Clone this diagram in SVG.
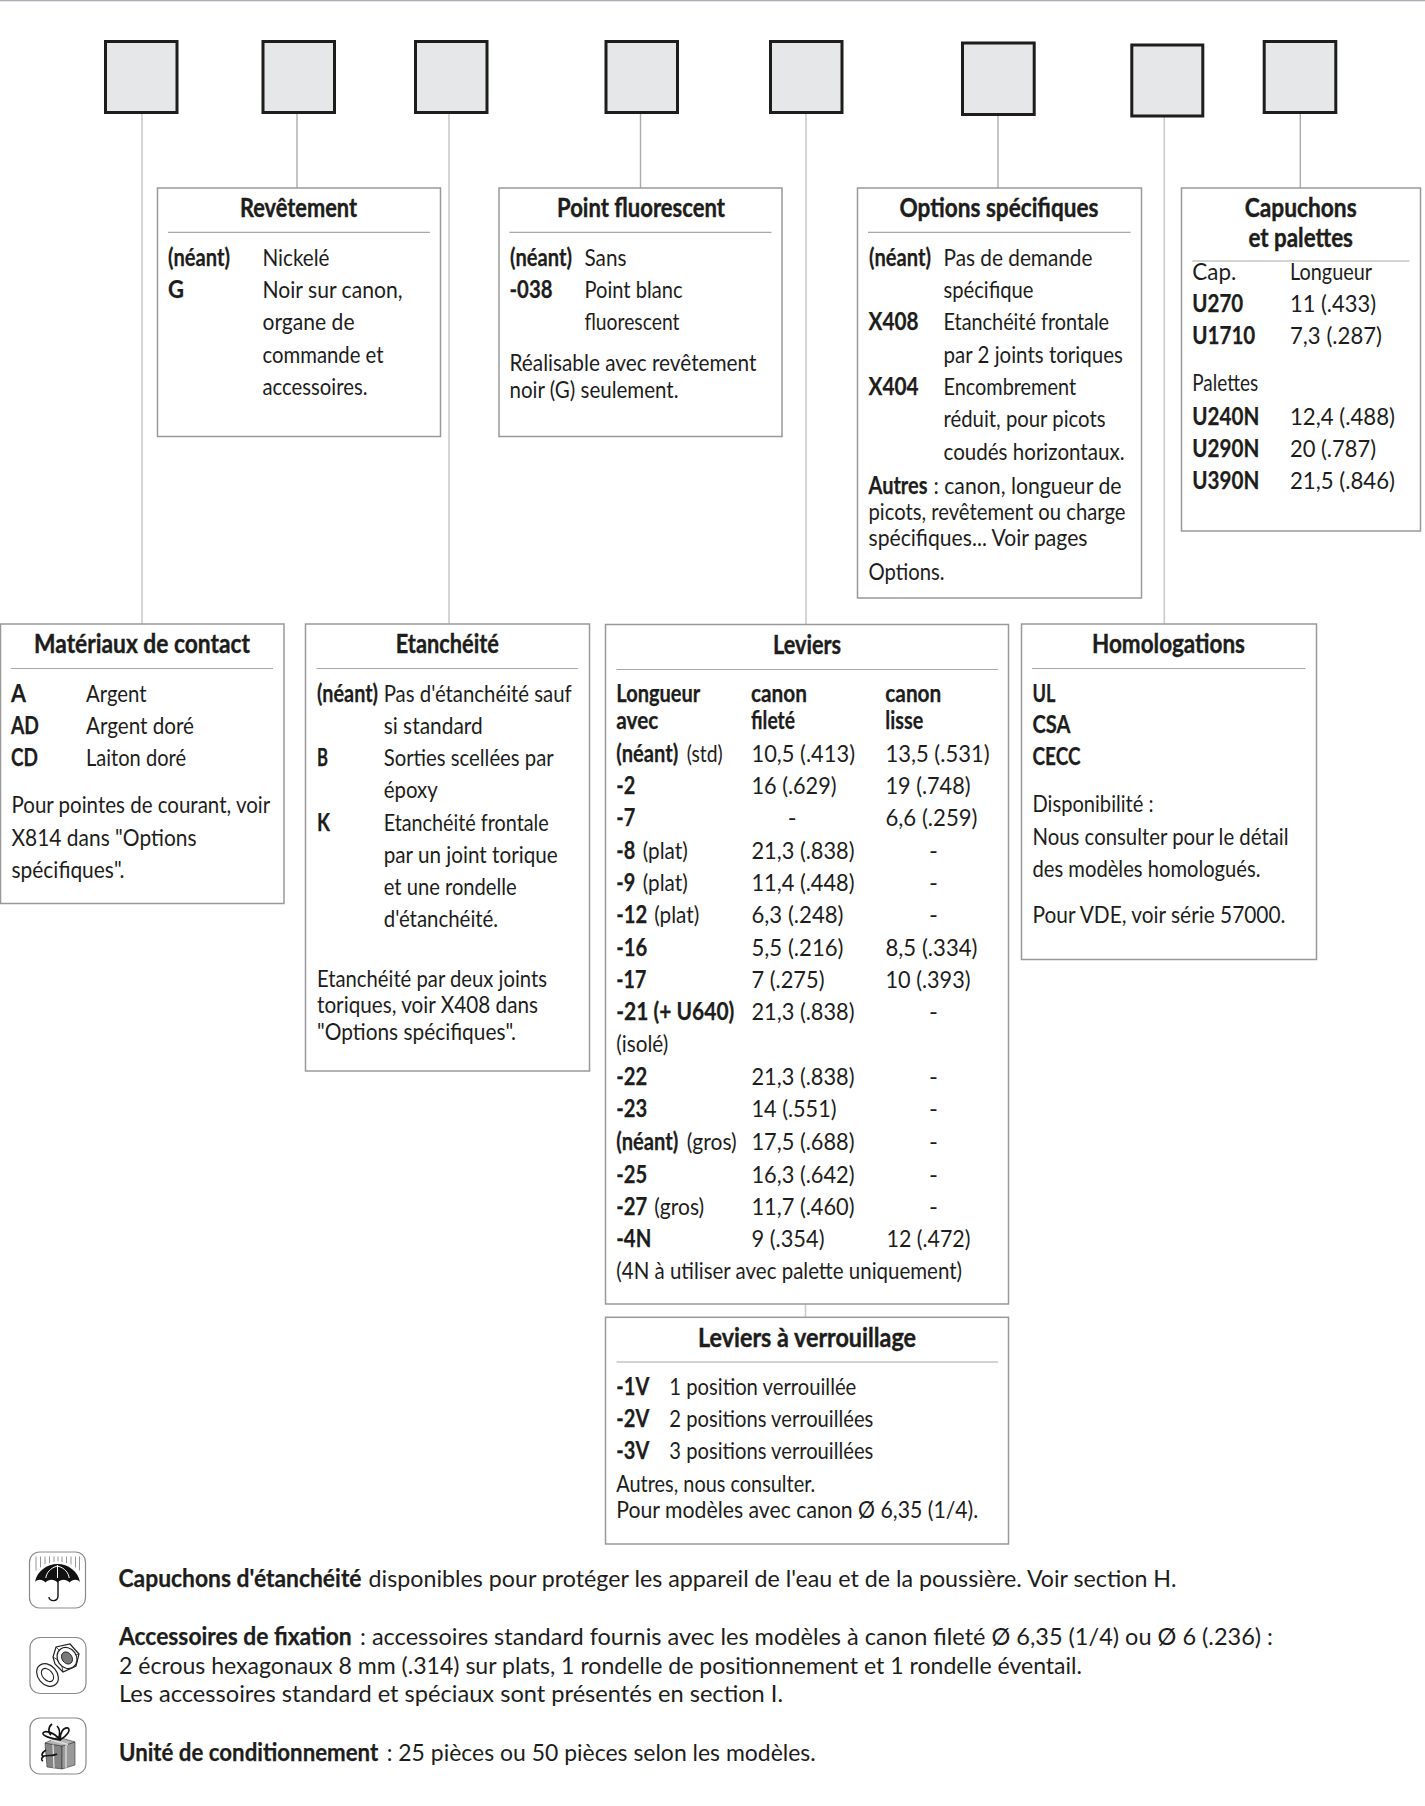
<svg xmlns="http://www.w3.org/2000/svg" width="1425" height="1806" viewBox="0 0 1425 1806">
<style>
text{font-family:"Lato","Liberation Sans",sans-serif;fill:#1d1d1b}
.t{font-size:24px}
.b{font-size:24px;font-weight:700;stroke:#1d1d1b;stroke-width:.25px}
.h{font-size:26.5px;font-weight:700;text-anchor:middle;stroke:#1d1d1b;stroke-width:.4px}
.sq{fill:#e6e7e8;stroke:#1d1d1b;stroke-width:3}
.box{fill:#fff;stroke:#999;stroke-width:1.5}
.rule{stroke:#a8a8a8;stroke-width:1.2;fill:none}
.c1{stroke:#cbcbcb;stroke-width:1.6;fill:none}
.c2{stroke:#ababab;stroke-width:1.4;fill:none}
.ic{fill:#fff;stroke:#8a8a8a;stroke-width:1.2}
</style>
<rect width="1425" height="1806" fill="#fff"/>
<rect width="1425" height="1.3" fill="#aeaeb6"/>
<g id="connectors">
<line class="c1" x1="142" y1="114" x2="142" y2="624"/>
<line class="c2" x1="297" y1="114" x2="297" y2="188"/>
<line class="c1" x1="449" y1="114" x2="449" y2="624"/>
<line class="c2" x1="640.5" y1="114" x2="640.5" y2="188"/>
<line class="c1" x1="806" y1="114" x2="806" y2="624"/>
<line class="c2" x1="998" y1="116" x2="998" y2="188"/>
<line class="c1" x1="1164.3" y1="117" x2="1164.3" y2="624"/>
<line class="c2" x1="1300.3" y1="114" x2="1300.3" y2="188"/>
<line class="c1" x1="805.5" y1="1304" x2="805.5" y2="1317"/>
</g>
<g id="slot1"><rect class="sq" x="105.5" y="41.5" width="71.500" height="71"/></g>
<g id="slot2"><rect class="sq" x="263" y="41.5" width="71.500" height="71"/></g>
<g id="slot3"><rect class="sq" x="415.5" y="41.5" width="71.500" height="71"/></g>
<g id="slot4"><rect class="sq" x="606" y="41.5" width="71.500" height="71"/></g>
<g id="slot5"><rect class="sq" x="770.5" y="41.5" width="71.500" height="71"/></g>
<g id="slot6"><rect class="sq" x="962.5" y="43" width="71.700" height="71.5"/></g>
<g id="slot7"><rect class="sq" x="1131.800" y="45" width="71" height="71"/></g>
<g id="slot8"><rect class="sq" x="1264.200" y="41.5" width="71.600" height="71"/></g>

<g id="revetement">
<rect class="box" x="157.5" y="188" width="283" height="248.5"/>
<line class="rule" x1="168" y1="232.3" x2="430" y2="232.3"/>
<text class="h" x="298.5" y="217" textLength="117" lengthAdjust="spacingAndGlyphs">Revêtement</text>
<text class="b" x="168" y="265.7" textLength="62" lengthAdjust="spacingAndGlyphs">(néant)</text>
<text class="b" x="168" y="298" textLength="16" lengthAdjust="spacingAndGlyphs">G</text>
<text class="t" x="262.5" y="265.7" textLength="67" lengthAdjust="spacingAndGlyphs">Nickelé</text>
<text class="t" x="262.5" y="298" textLength="140" lengthAdjust="spacingAndGlyphs">Noir sur canon,</text>
<text class="t" x="262.5" y="330.3" textLength="92" lengthAdjust="spacingAndGlyphs">organe de</text>
<text class="t" x="262.5" y="362.6" textLength="121" lengthAdjust="spacingAndGlyphs">commande et</text>
<text class="t" x="262.5" y="394.9" textLength="105" lengthAdjust="spacingAndGlyphs">accessoires.</text>
</g>

<g id="point-fluorescent">
<rect class="box" x="499" y="188" width="283" height="248.5"/>
<line class="rule" x1="509.5" y1="232.3" x2="771.5" y2="232.3"/>
<text class="h" x="641" y="217" textLength="168" lengthAdjust="spacingAndGlyphs">Point fluorescent</text>
<text class="b" x="510" y="265.7" textLength="62" lengthAdjust="spacingAndGlyphs">(néant)</text>
<text class="b" x="509.5" y="298" textLength="43" lengthAdjust="spacingAndGlyphs">-038</text>
<text class="t" x="584.5" y="265.7" textLength="42" lengthAdjust="spacingAndGlyphs">Sans</text>
<text class="t" x="584.5" y="298" textLength="98" lengthAdjust="spacingAndGlyphs">Point blanc</text>
<text class="t" x="584.5" y="330.3" textLength="95" lengthAdjust="spacingAndGlyphs">fluorescent</text>
<text class="t" x="509.5" y="371.2" textLength="247" lengthAdjust="spacingAndGlyphs">Réalisable avec  revêtement</text>
<text class="t" x="509.5" y="398" textLength="169" lengthAdjust="spacingAndGlyphs">noir (G) seulement.</text>
</g>

<g id="options-specifiques">
<rect class="box" x="857.5" y="188" width="284" height="410"/>
<line class="rule" x1="868" y1="232.3" x2="1130.5" y2="232.3"/>
<text class="h" x="999" y="217" textLength="199" lengthAdjust="spacingAndGlyphs">Options spécifiques</text>
<text class="b" x="869" y="265.7" textLength="62" lengthAdjust="spacingAndGlyphs">(néant)</text>
<text class="b" x="868.5" y="330.3" textLength="50" lengthAdjust="spacingAndGlyphs">X408</text>
<text class="b" x="868.5" y="394.9" textLength="50" lengthAdjust="spacingAndGlyphs">X404</text>
<text class="t" x="943.5" y="265.7" textLength="149" lengthAdjust="spacingAndGlyphs">Pas de demande</text>
<text class="t" x="943.5" y="298" textLength="90" lengthAdjust="spacingAndGlyphs">spécifique</text>
<text class="t" x="943.5" y="330.3" textLength="165.6" lengthAdjust="spacingAndGlyphs">Etanchéité frontale</text>
<text class="t" x="943.5" y="362.6" textLength="179.4" lengthAdjust="spacingAndGlyphs">par 2 joints toriques</text>
<text class="t" x="943.5" y="394.9" textLength="132.5" lengthAdjust="spacingAndGlyphs">Encombrement</text>
<text class="t" x="943.5" y="427.2" textLength="162" lengthAdjust="spacingAndGlyphs">réduit, pour picots</text>
<text class="t" x="943.5" y="459.5" textLength="181" lengthAdjust="spacingAndGlyphs">coudés horizontaux.</text>
<text class="b" x="868.5" y="494" textLength="59" lengthAdjust="spacingAndGlyphs">Autres</text>
<text class="t" x="933.5" y="494" textLength="188" lengthAdjust="spacingAndGlyphs">: canon, longueur de</text>
<text class="t" x="868.5" y="520" textLength="257" lengthAdjust="spacingAndGlyphs">picots, revêtement ou charge</text>
<text class="t" x="868.5" y="546" textLength="219" lengthAdjust="spacingAndGlyphs">spécifiques... Voir pages</text>
<text class="t" x="868.5" y="580" textLength="76" lengthAdjust="spacingAndGlyphs">Options.</text>
</g>

<g id="capuchons-palettes">
<rect class="box" x="1181.5" y="188" width="239" height="343"/>
<line class="rule" x1="1192.3" y1="261" x2="1409.5" y2="261"/>
<text class="h" x="1300.7" y="217.4" textLength="112" lengthAdjust="spacingAndGlyphs">Capuchons</text>
<text class="h" x="1300.7" y="246.500" textLength="104.5" lengthAdjust="spacingAndGlyphs">et palettes</text>
<text class="t" x="1192.3" y="280" textLength="44" lengthAdjust="spacingAndGlyphs">Cap.</text>
<text class="t" x="1290" y="280" textLength="82" lengthAdjust="spacingAndGlyphs">Longueur</text>
<text class="b" x="1192.3" y="312" textLength="51" lengthAdjust="spacingAndGlyphs">U270</text>
<text class="t" x="1290" y="312" textLength="86" lengthAdjust="spacingAndGlyphs">11 (.433)</text>
<text class="b" x="1192.3" y="344" textLength="63" lengthAdjust="spacingAndGlyphs">U1710</text>
<text class="t" x="1290" y="344" textLength="92" lengthAdjust="spacingAndGlyphs">7,3 (.287)</text>
<text class="t" x="1192.3" y="391" textLength="66" lengthAdjust="spacingAndGlyphs">Palettes</text>
<text class="b" x="1192.3" y="424.500" textLength="67" lengthAdjust="spacingAndGlyphs">U240N</text>
<text class="t" x="1290" y="424.500" textLength="105" lengthAdjust="spacingAndGlyphs">12,4 (.488)</text>
<text class="b" x="1192.3" y="456.700" textLength="67" lengthAdjust="spacingAndGlyphs">U290N</text>
<text class="t" x="1290" y="456.700" textLength="86" lengthAdjust="spacingAndGlyphs">20 (.787)</text>
<text class="b" x="1192.3" y="489" textLength="67" lengthAdjust="spacingAndGlyphs">U390N</text>
<text class="t" x="1290" y="489" textLength="105" lengthAdjust="spacingAndGlyphs">21,5 (.846)</text>
</g>

<g id="materiaux">
<rect class="box" x="0.5" y="624" width="283.5" height="279.5"/>
<line class="rule" x1="11" y1="668.5" x2="273" y2="668.5"/>
<text class="h" x="142" y="653.3" textLength="216" lengthAdjust="spacingAndGlyphs">Matériaux de contact</text>
<text class="b" x="11" y="701.7" textLength="15" lengthAdjust="spacingAndGlyphs">A</text>
<text class="b" x="11" y="734" textLength="28" lengthAdjust="spacingAndGlyphs">AD</text>
<text class="b" x="11" y="766.3" textLength="27" lengthAdjust="spacingAndGlyphs">CD</text>
<text class="t" x="86" y="701.7" textLength="60.5" lengthAdjust="spacingAndGlyphs">Argent</text>
<text class="t" x="86" y="734" textLength="108" lengthAdjust="spacingAndGlyphs">Argent doré</text>
<text class="t" x="86" y="766.3" textLength="100" lengthAdjust="spacingAndGlyphs">Laiton doré</text>
<text class="t" x="11.5" y="813.3" textLength="258.7" lengthAdjust="spacingAndGlyphs">Pour pointes de courant, voir</text>
<text class="t" x="11.5" y="845.7" textLength="185" lengthAdjust="spacingAndGlyphs">X814 dans "Options</text>
<text class="t" x="11.5" y="878" textLength="113" lengthAdjust="spacingAndGlyphs">spécifiques".</text>
</g>

<g id="etancheite">
<rect class="box" x="305.5" y="624" width="284" height="447"/>
<line class="rule" x1="316.5" y1="668.5" x2="578" y2="668.5"/>
<text class="h" x="447.3" y="653.3" textLength="103" lengthAdjust="spacingAndGlyphs">Etanchéité</text>
<text class="b" x="317" y="701.7" textLength="61" lengthAdjust="spacingAndGlyphs">(néant)</text>
<text class="b" x="317" y="766.3" textLength="11" lengthAdjust="spacingAndGlyphs">B</text>
<text class="b" x="317" y="830.6" textLength="13" lengthAdjust="spacingAndGlyphs">K</text>
<text class="t" x="383.7" y="701.7" textLength="188" lengthAdjust="spacingAndGlyphs">Pas d'étanchéité sauf</text>
<text class="t" x="383.7" y="734" textLength="99" lengthAdjust="spacingAndGlyphs">si standard</text>
<text class="t" x="383.7" y="766.3" textLength="170" lengthAdjust="spacingAndGlyphs">Sorties scellées par</text>
<text class="t" x="383.7" y="798" textLength="54" lengthAdjust="spacingAndGlyphs">époxy</text>
<text class="t" x="383.7" y="830.6" textLength="165" lengthAdjust="spacingAndGlyphs">Etanchéité frontale</text>
<text class="t" x="383.7" y="862.8" textLength="174" lengthAdjust="spacingAndGlyphs">par un joint torique</text>
<text class="t" x="383.7" y="895" textLength="133" lengthAdjust="spacingAndGlyphs">et une rondelle</text>
<text class="t" x="383.7" y="927.2" textLength="114.5" lengthAdjust="spacingAndGlyphs">d'étanchéité.</text>
<text class="t" x="317" y="986.7" textLength="230" lengthAdjust="spacingAndGlyphs">Etanchéité par deux joints</text>
<text class="t" x="317" y="1013" textLength="221" lengthAdjust="spacingAndGlyphs">toriques, voir X408 dans</text>
<text class="t" x="317" y="1039.5" textLength="199" lengthAdjust="spacingAndGlyphs">"Options spécifiques".</text>
</g>

<g id="leviers">
<rect class="box" x="605.5" y="624.5" width="403" height="679.5"/>
<line class="rule" x1="616.5" y1="669.5" x2="998" y2="669.5"/>
<text class="h" x="807" y="654" textLength="68" lengthAdjust="spacingAndGlyphs">Leviers</text>
<text class="b" x="616.3" y="702.3" textLength="84" lengthAdjust="spacingAndGlyphs">Longueur</text>
<text class="b" x="616.3" y="729.3" textLength="42" lengthAdjust="spacingAndGlyphs">avec</text>
<text class="b" x="751" y="702.3" textLength="56" lengthAdjust="spacingAndGlyphs">canon</text>
<text class="b" x="751" y="729.3" textLength="44" lengthAdjust="spacingAndGlyphs">fileté</text>
<text class="b" x="885.3" y="702.3" textLength="56" lengthAdjust="spacingAndGlyphs">canon</text>
<text class="b" x="885.3" y="729.3" textLength="38" lengthAdjust="spacingAndGlyphs">lisse</text>

<text class="b" x="616.3" y="762" textLength="62" lengthAdjust="spacingAndGlyphs">(néant)</text>
<text class="t" x="686.7" y="762" textLength="36" lengthAdjust="spacingAndGlyphs">(std)</text>
<text class="t" x="751.500" y="762" textLength="103.5" lengthAdjust="spacingAndGlyphs">10,5 (.413)</text>
<text class="t" x="885.500" y="762" textLength="104" lengthAdjust="spacingAndGlyphs">13,5 (.531)</text>

<text class="b" x="616.3" y="794" textLength="19" lengthAdjust="spacingAndGlyphs">-2</text>
<text class="t" x="751.500" y="794" textLength="85" lengthAdjust="spacingAndGlyphs">16 (.629)</text>
<text class="t" x="885.500" y="794" textLength="85" lengthAdjust="spacingAndGlyphs">19 (.748)</text>

<text class="b" x="616.3" y="826.3" textLength="19" lengthAdjust="spacingAndGlyphs">-7</text>
<text class="t" x="787.700" y="826.3">-</text>
<text class="t" x="885.500" y="826.3" textLength="92" lengthAdjust="spacingAndGlyphs">6,6 (.259)</text>

<text class="b" x="616.3" y="858.7" textLength="19" lengthAdjust="spacingAndGlyphs">-8</text>
<text class="t" x="642.7" y="858.7" textLength="45" lengthAdjust="spacingAndGlyphs">(plat)</text>
<text class="t" x="751.500" y="858.7" textLength="103" lengthAdjust="spacingAndGlyphs">21,3 (.838)</text>
<text class="t" x="929" y="858.7">-</text>

<text class="b" x="616.3" y="891" textLength="19" lengthAdjust="spacingAndGlyphs">-9</text>
<text class="t" x="642.7" y="891" textLength="45" lengthAdjust="spacingAndGlyphs">(plat)</text>
<text class="t" x="751.500" y="891" textLength="103" lengthAdjust="spacingAndGlyphs">11,4 (.448)</text>
<text class="t" x="929" y="891">-</text>

<text class="b" x="616.3" y="923" textLength="31" lengthAdjust="spacingAndGlyphs">-12</text>
<text class="t" x="654.2" y="923" textLength="45" lengthAdjust="spacingAndGlyphs">(plat)</text>
<text class="t" x="751.500" y="923" textLength="92" lengthAdjust="spacingAndGlyphs">6,3 (.248)</text>
<text class="t" x="929" y="923">-</text>

<text class="b" x="616.3" y="955.5" textLength="31" lengthAdjust="spacingAndGlyphs">-16</text>
<text class="t" x="751.500" y="955.5" textLength="92" lengthAdjust="spacingAndGlyphs">5,5 (.216)</text>
<text class="t" x="885.500" y="955.5" textLength="92" lengthAdjust="spacingAndGlyphs">8,5 (.334)</text>

<text class="b" x="616.3" y="987.700" textLength="30" lengthAdjust="spacingAndGlyphs">-17</text>
<text class="t" x="751.500" y="987.700" textLength="73" lengthAdjust="spacingAndGlyphs">7 (.275)</text>
<text class="t" x="885.500" y="987.700" textLength="85" lengthAdjust="spacingAndGlyphs">10 (.393)</text>

<text class="b" x="616.3" y="1020" textLength="118" lengthAdjust="spacingAndGlyphs">-21 (+ U640)</text>
<text class="t" x="751.500" y="1020" textLength="103" lengthAdjust="spacingAndGlyphs">21,3 (.838)</text>
<text class="t" x="929" y="1020">-</text>

<text class="t" x="616.3" y="1052" textLength="52" lengthAdjust="spacingAndGlyphs">(isolé)</text>

<text class="b" x="616.3" y="1084.500" textLength="31" lengthAdjust="spacingAndGlyphs">-22</text>
<text class="t" x="751.500" y="1084.500" textLength="103" lengthAdjust="spacingAndGlyphs">21,3 (.838)</text>
<text class="t" x="929" y="1084.500">-</text>

<text class="b" x="616.3" y="1117" textLength="31" lengthAdjust="spacingAndGlyphs">-23</text>
<text class="t" x="751.500" y="1117" textLength="85" lengthAdjust="spacingAndGlyphs">14 (.551)</text>
<text class="t" x="929" y="1117">-</text>

<text class="b" x="616.3" y="1150" textLength="62" lengthAdjust="spacingAndGlyphs">(néant)</text>
<text class="t" x="686.7" y="1150" textLength="50" lengthAdjust="spacingAndGlyphs">(gros)</text>
<text class="t" x="751.500" y="1150" textLength="103" lengthAdjust="spacingAndGlyphs">17,5 (.688)</text>
<text class="t" x="929" y="1150">-</text>

<text class="b" x="616.3" y="1182.500" textLength="31" lengthAdjust="spacingAndGlyphs">-25</text>
<text class="t" x="751.500" y="1182.500" textLength="103" lengthAdjust="spacingAndGlyphs">16,3 (.642)</text>
<text class="t" x="929" y="1182.500">-</text>

<text class="b" x="616.3" y="1214.700" textLength="31" lengthAdjust="spacingAndGlyphs">-27</text>
<text class="t" x="654.2" y="1214.700" textLength="50" lengthAdjust="spacingAndGlyphs">(gros)</text>
<text class="t" x="751.500" y="1214.700" textLength="103" lengthAdjust="spacingAndGlyphs">11,7 (.460)</text>
<text class="t" x="929" y="1214.700">-</text>

<text class="b" x="616.3" y="1246.7" textLength="35" lengthAdjust="spacingAndGlyphs">-4N</text>
<text class="t" x="751.500" y="1246.7" textLength="73" lengthAdjust="spacingAndGlyphs">9 (.354)</text>
<text class="t" x="886.500" y="1246.7" textLength="84" lengthAdjust="spacingAndGlyphs">12 (.472)</text>

<text class="t" x="616.3" y="1279" textLength="345.7" lengthAdjust="spacingAndGlyphs">(4N à utiliser avec palette uniquement)</text>
</g>

<g id="leviers-verrouillage">
<rect class="box" x="605.5" y="1317.3" width="403" height="226.7"/>
<line class="rule" x1="616.5" y1="1362" x2="998" y2="1362"/>
<text class="h" x="807" y="1347" textLength="218" lengthAdjust="spacingAndGlyphs">Leviers à verrouillage</text>
<text class="b" x="616.3" y="1394.6" textLength="33" lengthAdjust="spacingAndGlyphs">-1V</text>
<text class="t" x="669.3" y="1394.6" textLength="187" lengthAdjust="spacingAndGlyphs">1 position verrouillée</text>
<text class="b" x="616.3" y="1426.8" textLength="33" lengthAdjust="spacingAndGlyphs">-2V</text>
<text class="t" x="669.3" y="1426.8" textLength="204" lengthAdjust="spacingAndGlyphs">2 positions verrouillées</text>
<text class="b" x="616.3" y="1459.300" textLength="33" lengthAdjust="spacingAndGlyphs">-3V</text>
<text class="t" x="669.3" y="1459.300" textLength="204" lengthAdjust="spacingAndGlyphs">3 positions verrouillées</text>
<text class="t" x="616.3" y="1492.300" textLength="199" lengthAdjust="spacingAndGlyphs">Autres, nous consulter.</text>
<text class="t" x="616.3" y="1518" textLength="362" lengthAdjust="spacingAndGlyphs">Pour modèles avec canon Ø 6,35 (1/4).</text>
</g>

<g id="homologations">
<rect class="box" x="1021.5" y="624" width="295" height="335.5"/>
<line class="rule" x1="1032" y1="668.5" x2="1305.5" y2="668.5"/>
<text class="h" x="1168.5" y="652.7" textLength="153" lengthAdjust="spacingAndGlyphs">Homologations</text>
<text class="b" x="1032.5" y="701.7" textLength="23" lengthAdjust="spacingAndGlyphs">UL</text>
<text class="b" x="1032.5" y="733" textLength="38" lengthAdjust="spacingAndGlyphs">CSA</text>
<text class="b" x="1032.5" y="765" textLength="48" lengthAdjust="spacingAndGlyphs">CECC</text>
<text class="t" x="1032.5" y="811.7" textLength="121" lengthAdjust="spacingAndGlyphs">Disponibilité :</text>
<text class="t" x="1032.5" y="844.500" textLength="256" lengthAdjust="spacingAndGlyphs">Nous consulter pour le détail</text>
<text class="t" x="1032.5" y="876.7" textLength="228" lengthAdjust="spacingAndGlyphs">des modèles homologués.</text>
<text class="t" x="1032.5" y="923" textLength="253" lengthAdjust="spacingAndGlyphs">Pour VDE, voir série 57000.</text>
</g>

<g id="note-capuchons">
<rect class="ic" x="29.5" y="1552" width="56" height="56" rx="10"/>
<path d="M36 1556.5v14M40.500 1556.500v11M45 1556.500v8M49.500 1556.500v6.500M54 1556.500v5.500M58 1556.500v5M62 1556.500v5.500M66.500 1556.500v6.500M71 1556.500v8M75.500 1556.500v11M79.500 1556.500v14" stroke="#8a8a8a" stroke-width="0.9" fill="none"/>
<path d="M35 1582C37 1571 47 1564 57.500 1564C68 1564 78 1571 80 1582C77.500 1579 72.500 1579 69.500 1582.500C66.500 1579 61 1578.500 57.500 1582.500C54 1578.500 48.500 1579 45.500 1582.500C42.500 1579 37.500 1579 35 1582Z" fill="#111"/>
<path d="M57.500 1565V1578M57.500 1566C50 1568 46.500 1573 45.800 1578M57.500 1566C65 1568 68.500 1573 69.200 1578" stroke="#fff" stroke-width="1" fill="none"/>
<path d="M58 1581V1596C58 1602 49 1602 49 1597" stroke="#111" stroke-width="1.400" fill="none"/>
<text class="b" x="118.500" y="1586.700" textLength="243" lengthAdjust="spacingAndGlyphs">Capuchons d'étanchéité</text>
<text class="t" x="368.600" y="1586.700" textLength="808" lengthAdjust="spacingAndGlyphs">disponibles pour protéger les appareil de l'eau et de la poussière. Voir section H.</text>
</g>

<g id="note-accessoires">
<rect class="ic" x="30" y="1637.500" width="56" height="56" rx="10"/>
<path d="M53 1657L56 1647L70 1644L79 1654L76 1666L63 1672L55 1664Z" fill="#fff" stroke="#222" stroke-width="1.200"/>
<path d="M56 1647L60 1651M53 1657L58 1660M63 1672L62 1666M79 1654L75 1655" stroke="#222" stroke-width="0.800" fill="none"/>
<ellipse cx="67" cy="1658" rx="9.500" ry="11" transform="rotate(-35 67 1658)" fill="#fff" stroke="#222" stroke-width="1.200"/>
<ellipse cx="67" cy="1658" rx="5" ry="6.500" transform="rotate(-35 67 1658)" fill="#7a7a7a" stroke="#222" stroke-width="0.900"/>
<ellipse cx="47.500" cy="1675" rx="9.500" ry="12.500" transform="rotate(-40 47.500 1675)" fill="#fff" stroke="#222" stroke-width="1.200"/>
<ellipse cx="47.500" cy="1675" rx="5" ry="7.500" transform="rotate(-40 47.500 1675)" fill="#fff" stroke="#222" stroke-width="1.100"/>
<text class="b" x="119" y="1645" textLength="232.700" lengthAdjust="spacingAndGlyphs">Accessoires de fixation</text>
<text class="t" x="360" y="1645" textLength="913" lengthAdjust="spacingAndGlyphs">: accessoires standard fournis avec les modèles à canon fileté Ø 6,35 (1/4) ou Ø 6 (.236) :</text>
<text class="t" x="119" y="1674.300" textLength="963" lengthAdjust="spacingAndGlyphs">2 écrous hexagonaux 8 mm (.314) sur plats, 1 rondelle de positionnement et 1 rondelle éventail.</text>
<text class="t" x="119" y="1702.300" textLength="664" lengthAdjust="spacingAndGlyphs">Les accessoires standard et spéciaux sont présentés en section I.</text>
</g>

<g id="note-conditionnement">
<rect class="ic" x="30" y="1718" width="56" height="56" rx="10"/>
<path d="M45 1743L62 1746L62 1769L47 1767Z" fill="#858585" stroke="#333" stroke-width="0.600"/>
<path d="M62 1746L75 1742L75 1765L62 1769Z" fill="#9a9a9a" stroke="#333" stroke-width="0.600"/>
<path d="M45 1743L58 1737L75 1742L62 1746Z" fill="#b5b5b5" stroke="#333" stroke-width="0.600"/>
<path d="M53 1744.500L54 1768M66 1745L66 1768M51 1740L68 1744.500" stroke="#ddd" stroke-width="1.300" fill="none"/>
<path d="M60 1740C54 1732 45 1730 43 1733C42 1736 50 1738 60 1740C60 1733 63 1727 68 1728C71 1730 67 1736 60 1740M52 1724C48 1727 48 1733 51 1735M57 1726C60 1729 60 1733 59 1737M46 1750C41 1753 41 1757 44 1756C49 1755 54 1756 57 1754M44 1756C41 1758 41 1760 43 1761" fill="none" stroke="#111" stroke-width="1.600"/>
<text class="b" x="119" y="1760.700" textLength="259.300" lengthAdjust="spacingAndGlyphs">Unité de conditionnement</text>
<text class="t" x="386.700" y="1760.700" textLength="429" lengthAdjust="spacingAndGlyphs">: 25 pièces ou 50 pièces selon les modèles.</text>
</g>
</svg>
